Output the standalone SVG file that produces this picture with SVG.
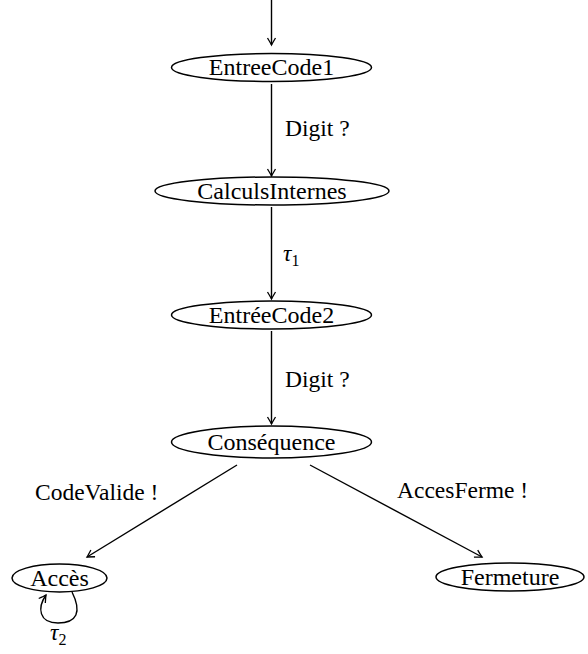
<svg xmlns="http://www.w3.org/2000/svg" width="588" height="654" viewBox="0 0 588 654" font-family="Liberation Serif, Times New Roman, serif">
<style>
.n{fill:#fff;stroke:#000;stroke-width:1.5}
.t{font-size:24px;text-anchor:middle;fill:#000}
.l{font-size:23.5px;fill:#000}
.e{fill:none;stroke:#000;stroke-width:1.4;marker-end:url(#a)}
</style>
<defs>
<marker id="a" markerWidth="12" markerHeight="12" refX="0" refY="0" viewBox="-9 -6 12 12" orient="auto" markerUnits="userSpaceOnUse">
<path d="M-7,-4 Q-2,-1 0,0 Q-2,1 -7,4" fill="none" stroke="#000" stroke-width="1.3"/>
</marker>
</defs>
<g id="edges">
<path class="e" d="M271.5,0 V45"/>
<path class="e" d="M271.5,84 V176"/>
<path class="e" d="M271.5,207 V299"/>
<path class="e" d="M271.5,331 V424"/>
<path class="e" d="M237,465 L87,557"/>
<path class="e" d="M310,465 L482,557"/>
<path class="e" d="M72,592 C82,612 77,623 58,623 C39,623 37,608 46,595"/>
<text class="l" x="285" y="136">Digit ?</text>
<text class="l" x="283" y="261" font-style="italic">τ<tspan font-size="16" font-style="normal" dy="5">1</tspan></text>
<text class="l" x="285" y="387">Digit ?</text>
<text class="l" x="35" y="500">CodeValide !</text>
<text class="l" x="397" y="498">AccesFerme !</text>
<text class="l" x="50" y="640" font-style="italic">τ<tspan font-size="16" font-style="normal" dy="5">2</tspan></text>
</g>
<g id="EntreeCode1"><ellipse class="n" cx="271.5" cy="67.5" rx="100" ry="14"/><text class="t" x="271.5" y="74.5">EntreeCode1</text></g>
<g id="CalculsInternes"><ellipse class="n" cx="272" cy="191" rx="117" ry="14"/><text class="t" x="272" y="198.5">CalculsInternes</text></g>
<g id="EntreeCode2"><ellipse class="n" cx="271.5" cy="315" rx="100" ry="14"/><text class="t" x="271.5" y="322.5">EntréeCode2</text></g>
<g id="Consequence"><ellipse class="n" cx="271.5" cy="442" rx="100" ry="16"/><text class="t" x="271.5" y="449.5">Conséquence</text></g>
<g id="Acces"><ellipse class="n" cx="59.5" cy="578" rx="47.5" ry="14"/><text class="t" x="59.5" y="585.5">Accès</text></g>
<g id="Fermeture"><ellipse class="n" cx="510" cy="577" rx="74" ry="14"/><text class="t" x="510" y="584.5">Fermeture</text></g>
</svg>
